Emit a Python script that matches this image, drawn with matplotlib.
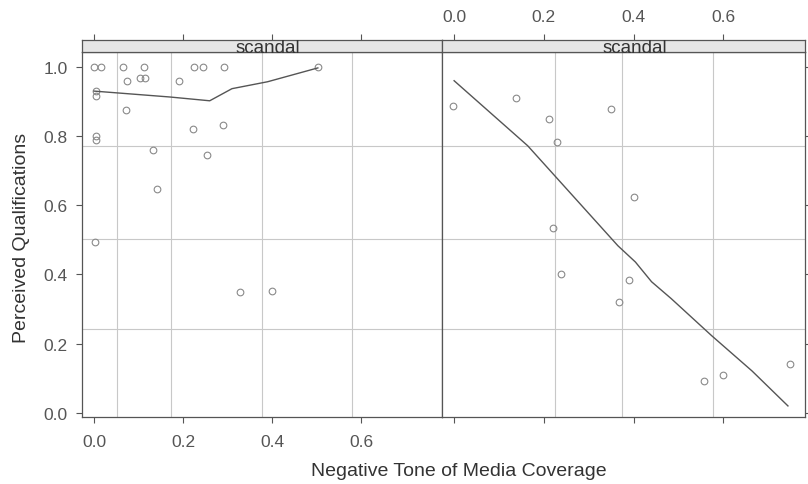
import matplotlib
matplotlib.use("Agg")
import matplotlib.pyplot as plt

plt.rcParams["font.family"] = ["Liberation Sans", "DejaVu Sans"]

# ---- data ----
left_x = [0.000, 0.016, 0.065, 0.112, 0.225, 0.245, 0.292, 0.503,
          0.074, 0.103, 0.115, 0.191, 0.004, 0.004, 0.072, 0.004, 0.004,
          0.222, 0.290, 0.133, 0.254, 0.142, 0.002, 0.328, 0.400]
left_y = [1.000, 1.000, 1.000, 1.000, 1.000, 1.000, 1.000, 1.000,
          0.960, 0.968, 0.968, 0.960, 0.930, 0.916, 0.876, 0.801, 0.789,
          0.820, 0.832, 0.760, 0.746, 0.647, 0.494, 0.350, 0.353]
left_fit_x = [0.000, 0.170, 0.260, 0.310, 0.390, 0.503]
left_fit_y = [0.930, 0.913, 0.902, 0.937, 0.957, 0.997]

right_x = [-0.002, 0.139, 0.211, 0.229, 0.350, 0.401, 0.220, 0.238,
           0.390, 0.368, 0.558, 0.599, 0.749]
right_y = [0.887, 0.910, 0.850, 0.783, 0.879, 0.624, 0.535, 0.402,
           0.384, 0.321, 0.092, 0.110, 0.142]
right_fit_x = [0.000, 0.164, 0.365, 0.404, 0.440, 0.484, 0.574, 0.664, 0.744]
right_fit_y = [0.960, 0.772, 0.483, 0.436, 0.379, 0.330, 0.223, 0.121, 0.020]

x_ticks = [0.0, 0.2, 0.4, 0.6]
y_ticks = [0.0, 0.2, 0.4, 0.6, 0.8, 1.0]
left_vgrid = [0.052, 0.173, 0.378, 0.580]
right_vgrid = [0.224, 0.374, 0.578]
hgrid = [0.771, 0.502, 0.242]
strip_label = "scandal"
x_label = "Negative Tone of Media Coverage"
y_label = "Perceived Qualifications"

XLIM = (-0.027, 0.782)
YLIM = (-0.012, 1.043)

W, H = 808, 485
fig = plt.figure(figsize=(W / 100, H / 100), dpi=100)

tick_color = "#555555"
frame_color = "#555555"
fs = 12.5

def px(l, t, r, b):
    return [l / W, 1 - b / H, (r - l) / W, (b - t) / H]

panels = [
    (px(82, 53, 442, 418), px(82, 41, 442, 53), left_x, left_y, left_fit_x, left_fit_y, left_vgrid, "bottom", 0.517),
    (px(442, 53, 805, 418), px(442, 41, 805, 53), right_x, right_y, right_fit_x, right_fit_y, right_vgrid, "top", 0.53),
]

for i, (pos, spos, xs, ys, fx, fy, vg, lab, sx) in enumerate(panels):
    ax = fig.add_axes(pos)
    ax.set_xlim(*XLIM)
    ax.set_ylim(*YLIM)
    for v in vg:
        ax.axvline(v, color="#c8c8c8", lw=0.8, zorder=0)
    for h in hgrid:
        ax.axhline(h, color="#c8c8c8", lw=0.8, zorder=0)
    ax.plot(xs, ys, linestyle="none", marker="o", markersize=4.8,
            markerfacecolor="none", markeredgecolor="#8a8a8a", markeredgewidth=0.8)
    ax.plot(fx, fy, color="#555555", lw=1.0)
    for s in ax.spines.values():
        s.set_color(frame_color)
        s.set_linewidth(0.9)
    ax.set_xticks(x_ticks)
    ax.set_yticks(y_ticks)
    ax.tick_params(axis="both", colors=tick_color, labelcolor=tick_color,
                   labelsize=fs, length=4.5, width=0.8, direction="out", pad=6)
    if lab == "bottom":
        ax.xaxis.set_tick_params(labelbottom=True, bottom=True, pad=8)
        ax.set_yticklabels([f"{v:.1f}" for v in y_ticks])
        ax.yaxis.set_tick_params(left=True, right=False)
    else:
        ax.xaxis.set_tick_params(labelbottom=False, bottom=True)
        ax.yaxis.set_tick_params(left=False, labelleft=False, right=True, labelright=False)
    ax.set_xticklabels([f"{v:.1f}" for v in x_ticks])

    sax = fig.add_axes(spos, sharex=ax)
    sax.set_facecolor("#e6e6e6")
    sax.set_ylim(0, 1)
    sax.set_yticks([])
    for s in sax.spines.values():
        s.set_color(frame_color)
        s.set_linewidth(0.9)
    sax.text(sx, 0.4, strip_label, transform=sax.transAxes, ha="center",
             va="center", fontsize=13.5, color="#333333")
    sax.xaxis.tick_top()
    sax.tick_params(axis="x", colors=tick_color, labelcolor=tick_color,
                    labelsize=fs, length=4.5, width=0.8, direction="out", pad=7,
                    bottom=False, labelbottom=False)
    if lab == "top":
        sax.xaxis.set_tick_params(labeltop=True, top=True)
    else:
        sax.xaxis.set_tick_params(labeltop=False, top=True)

fig.text(459 / W, 1 - 472 / H, x_label, ha="center", va="center",
         fontsize=14, color="#333333")
fig.text(22 / W, 1 - 238 / H, y_label, ha="center", va="center",
         rotation=90, fontsize=14, color="#333333")

fig.savefig("out.png", dpi=100)
